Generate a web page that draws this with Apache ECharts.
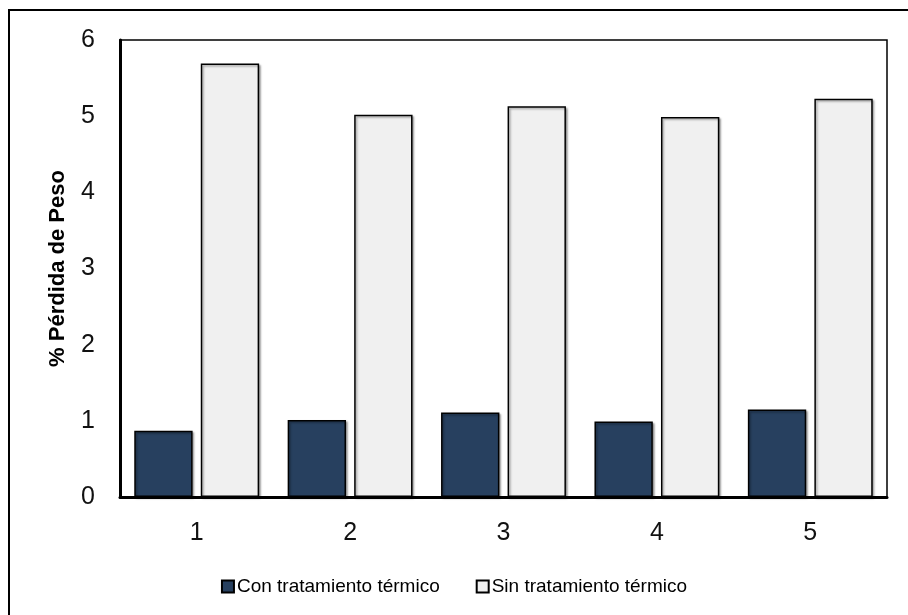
<!DOCTYPE html>
<html>
<head>
<meta charset="utf-8">
<script src="https://cdn.jsdelivr.net/npm/echarts@6/dist/echarts.min.js"></script>
<style>
  html, body { margin: 0; padding: 0; background: #fff; }
  #chart { width: 908px; height: 615px; }
</style>
</head>
<body>
<div id="chart"></div>
<script>
// Weight-loss percentages per sample, with and without heat treatment
const categories = ['1', '2', '3', '4', '5'];
const conTratamiento = [0.87, 1.01, 1.11, 0.99, 1.15];
const sinTratamiento = [5.69, 5.02, 5.13, 4.99, 5.23];
const yTicks = [0, 1, 2, 3, 4, 5, 6];

const sans = '"Liberation Sans Narrow", "Arial Narrow", "Liberation Sans", Arial, sans-serif';

const chart = echarts.init(document.getElementById('chart'), null, { renderer: 'canvas' });

const barStyle = (fill) => ({
  color: fill,
  borderColor: '#000',
  borderWidth: 1.5,
  shadowColor: 'rgba(0,0,0,0.35)',
  shadowBlur: 2,
  shadowOffsetX: 1.5,
  shadowOffsetY: 1.5
});

chart.setOption({
  animation: false,
  backgroundColor: '#fff',
  graphic: [{
    type: 'rect',
    shape: { x: 9, y: 10, width: 940, height: 640 },
    style: { fill: 'none', stroke: '#000', lineWidth: 2 },
    silent: true,
    z: -1
  }],
  grid: {
    left: 120, right: 21, top: 40, bottom: 118,
    show: true, borderColor: '#000', borderWidth: 1.5, backgroundColor: 'transparent'
  },
  legend: {
    bottom: 14,
    left: 'center',
    itemWidth: 12,
    itemHeight: 12,
    itemGap: 36,
    icon: 'rect',
    textStyle: { fontFamily: sans, fontSize: 19, color: '#000', padding: [0, 0, 0, -2] },
    data: ['Con tratamiento térmico', 'Sin tratamiento térmico']
  },
  xAxis: {
    type: 'category',
    data: categories,
    axisLine: { lineStyle: { color: '#000', width: 3 } },
    axisTick: { show: false },
    axisLabel: { fontFamily: sans, fontSize: 25, color: '#111', margin: 24 }
  },
  yAxis: {
    type: 'value',
    min: yTicks[0],
    max: yTicks[yTicks.length - 1],
    interval: 1,
    name: '% Pérdida de Peso',
    nameLocation: 'middle',
    nameGap: 51,
    nameRotate: 90,
    nameTextStyle: { fontFamily: '"Liberation Sans", Arial, sans-serif', fontWeight: 'bold', fontSize: 22, color: '#000' },
    axisLine: { show: true, lineStyle: { color: '#000', width: 3 } },
    axisTick: { show: false },
    splitLine: { show: false },
    axisLabel: { fontFamily: sans, fontSize: 25, color: '#111', margin: 25 }
  },
  series: [
    {
      name: 'Con tratamiento térmico',
      type: 'bar',
      data: conTratamiento,
      barGap: '14%',
      barCategoryGap: '18.6%',
      itemStyle: barStyle('#27405f')
    },
    {
      name: 'Sin tratamiento térmico',
      type: 'bar',
      data: sinTratamiento,
      barGap: '14%',
      barCategoryGap: '18.6%',
      itemStyle: barStyle('#f0f0f0')
    }
  ]
});
</script>
</body>
</html>
